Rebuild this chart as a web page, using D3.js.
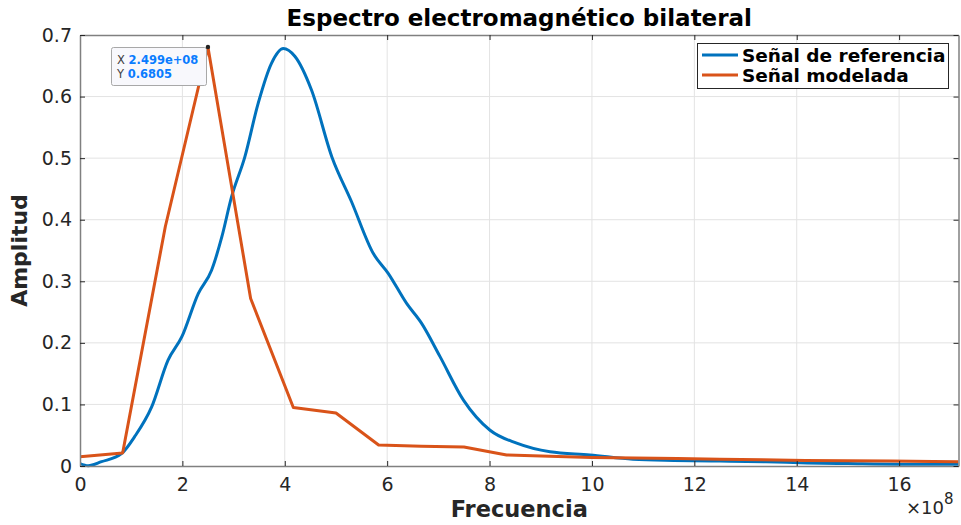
<!DOCTYPE html>
<html><head><meta charset="utf-8">
<script src="https://cdn.jsdelivr.net/npm/d3@7"></script>
<style>body{margin:0;background:#fff;}svg{display:block;font-family:"DejaVu Sans",sans-serif;}</style>
</head><body><svg id="c" width="961" height="525"></svg>
<script>
// Data (frequency in units of 1e8)
const refX = [0,0.16,0.42,0.81,1.07,1.40,1.72,1.99,2.31,2.57,2.77,2.96,3.22,3.48,3.74,3.97,4.2,4.52,4.92,5.30,5.73,6.02,6.38,6.67,7.03,7.49,8.01,8.53,9.18,9.96,10.8,11.6,12.5,13.4,14.2,15.0,16.0,17.16];
const refY = [0.004,0.0005,0.007,0.02,0.048,0.096,0.172,0.21,0.28,0.318,0.372,0.437,0.502,0.589,0.654,0.678,0.665,0.611,0.502,0.43,0.345,0.313,0.264,0.232,0.178,0.107,0.058,0.037,0.023,0.018,0.011,0.009,0.008,0.007,0.005,0.004,0.003,0.003];
const modX = [0,0.833,1.667,2.499,3.333,4.167,5.0,5.833,6.667,7.5,8.333,9.167,10.0,10.833,11.667,12.5,13.333,14.167,15.0,15.833,16.667,17.16];
const modY = [0.015,0.021,0.389,0.6805,0.272,0.095,0.086,0.034,0.032,0.031,0.018,0.016,0.014,0.013,0.012,0.011,0.010,0.009,0.0085,0.008,0.0075,0.007];
const xTicks = [0,2,4,6,8,10,12,14,16];
const yTicks = [0,0.1,0.2,0.3,0.4,0.5,0.6,0.7];
const seriesNames = ["Señal de referencia","Señal modelada"];
const colors = ["#0072BD","#D95319"];

const svg = d3.select("#c");
const L=80,R=958.5,T=35,B=466;
const x = d3.scaleLinear().domain([0,17.16]).range([L,R]);
const y = d3.scaleLinear().domain([0,0.7]).range([B,T]);

// grid
const g = svg.append("g");
g.selectAll(".gx").data(xTicks.slice(1)).join("line")
 .attr("x1",d=>x(d)).attr("x2",d=>x(d)).attr("y1",T).attr("y2",B)
 .attr("stroke","#e3e3e3").attr("stroke-width",1);
g.selectAll(".gy").data(yTicks.slice(1,-1)).join("line")
 .attr("x1",L).attr("x2",R).attr("y1",d=>y(d)).attr("y2",d=>y(d))
 .attr("stroke","#e3e3e3").attr("stroke-width",1);

// clip
svg.append("clipPath").attr("id","cp").append("rect").attr("x",L).attr("y",T-2).attr("width",R-L).attr("height",B-T+4);

const lineRef = d3.line().x((d,i)=>x(refX[i])).y(d=>y(d)).curve(d3.curveMonotoneX);
const lineMod = d3.line().x((d,i)=>x(modX[i])).y(d=>y(d));
svg.append("path").attr("d",lineRef(refY)).attr("fill","none").attr("stroke",colors[0]).attr("stroke-width",3).attr("clip-path","url(#cp)");
svg.append("path").attr("d",lineMod(modY)).attr("fill","none").attr("stroke",colors[1]).attr("stroke-width",3).attr("stroke-linejoin","round").attr("clip-path","url(#cp)");

// axes
const axCol="#262626";
const xa = svg.append("g").attr("transform",`translate(0,${B})`).call(d3.axisBottom(x).tickValues(xTicks).tickSizeInner(-5).tickSizeOuter(0).tickPadding(12).tickFormat(d3.format("d")));
const xt = svg.append("g").attr("transform",`translate(0,${T})`).call(d3.axisTop(x).tickValues(xTicks).tickSizeInner(-5).tickSizeOuter(0).tickFormat(""));
const ya = svg.append("g").attr("transform",`translate(${L},0)`).call(d3.axisLeft(y).tickValues(yTicks).tickSizeInner(-5).tickSizeOuter(0).tickPadding(8).tickFormat(d=>d===0?"0":d3.format(".1f")(d)));
const yr = svg.append("g").attr("transform",`translate(${R},0)`).call(d3.axisRight(y).tickValues(yTicks).tickSizeInner(-5).tickSizeOuter(0).tickFormat(""));
[xa,xt,ya,yr].forEach(a=>{
  a.select(".domain").attr("stroke","#808080").attr("stroke-width",1.5);
  a.selectAll(".tick line").attr("stroke",axCol);
  a.selectAll("text").attr("fill",axCol).style("font-size","19px").style("font-family","DejaVu Sans");
});
xa.selectAll("text").attr("dy","0.71em");

// title & labels
svg.append("text").attr("x",(L+R)/2).attr("y",26).attr("text-anchor","middle")
 .style("font-weight","bold").style("font-size","23px").attr("fill","#000").text("Espectro electromagnético bilateral");
svg.append("text").attr("x",(L+R)/2).attr("y",517).attr("text-anchor","middle")
 .style("font-weight","bold").style("font-size","22.5px").attr("fill","#262626").text("Frecuencia");
svg.append("text").attr("transform",`translate(27,${(T+B)/2}) rotate(-90)`).attr("text-anchor","middle")
 .style("font-weight","bold").style("font-size","22px").attr("fill","#262626").text("Amplitud");
const ex = svg.append("text").attr("x",906).attr("y",514).attr("fill","#262626").style("font-size","18px");
ex.append("tspan").text("×10");
ex.append("tspan").attr("dy",-10).style("font-size","15px").text("8");

// legend
const lg = svg.append("g");
lg.append("rect").attr("x",697.5).attr("y",43.5).attr("width",251).attr("height",45).attr("fill","#fff").attr("stroke","#262626").attr("stroke-width",1);
seriesNames.forEach((n,i)=>{
  const yy = 55+i*20;
  lg.append("line").attr("x1",702).attr("x2",738).attr("y1",yy).attr("y2",yy).attr("stroke",colors[i]).attr("stroke-width",3);
  lg.append("text").attr("x",742).attr("y",yy+6.5).style("font-weight","bold").style("font-size","18.5px").attr("fill","#000").text(n);
});

// datatip
const px = x(modX[3]), py = y(modY[3]);
svg.append("rect").attr("x",111.5).attr("y",47.5).attr("width",95).attr("height",38).attr("rx",2)
 .attr("fill","#f8f8fc").attr("stroke","#a8a8a8");
const t1 = svg.append("text").attr("x",117).attr("y",63.5).style("font-size","11.5px");
t1.append("tspan").attr("fill","#404040").text("X ");
t1.append("tspan").attr("fill","#0a7cff").style("font-weight","bold").text("2.499e+08");
const t2 = svg.append("text").attr("x",117).attr("y",77.5).style("font-size","11.5px");
t2.append("tspan").attr("fill","#404040").text("Y ");
t2.append("tspan").attr("fill","#0a7cff").style("font-weight","bold").text(modY[3].toFixed(4));
svg.append("circle").attr("cx",px).attr("cy",py).attr("r",2.2).attr("fill","#222");
</script></body></html>
